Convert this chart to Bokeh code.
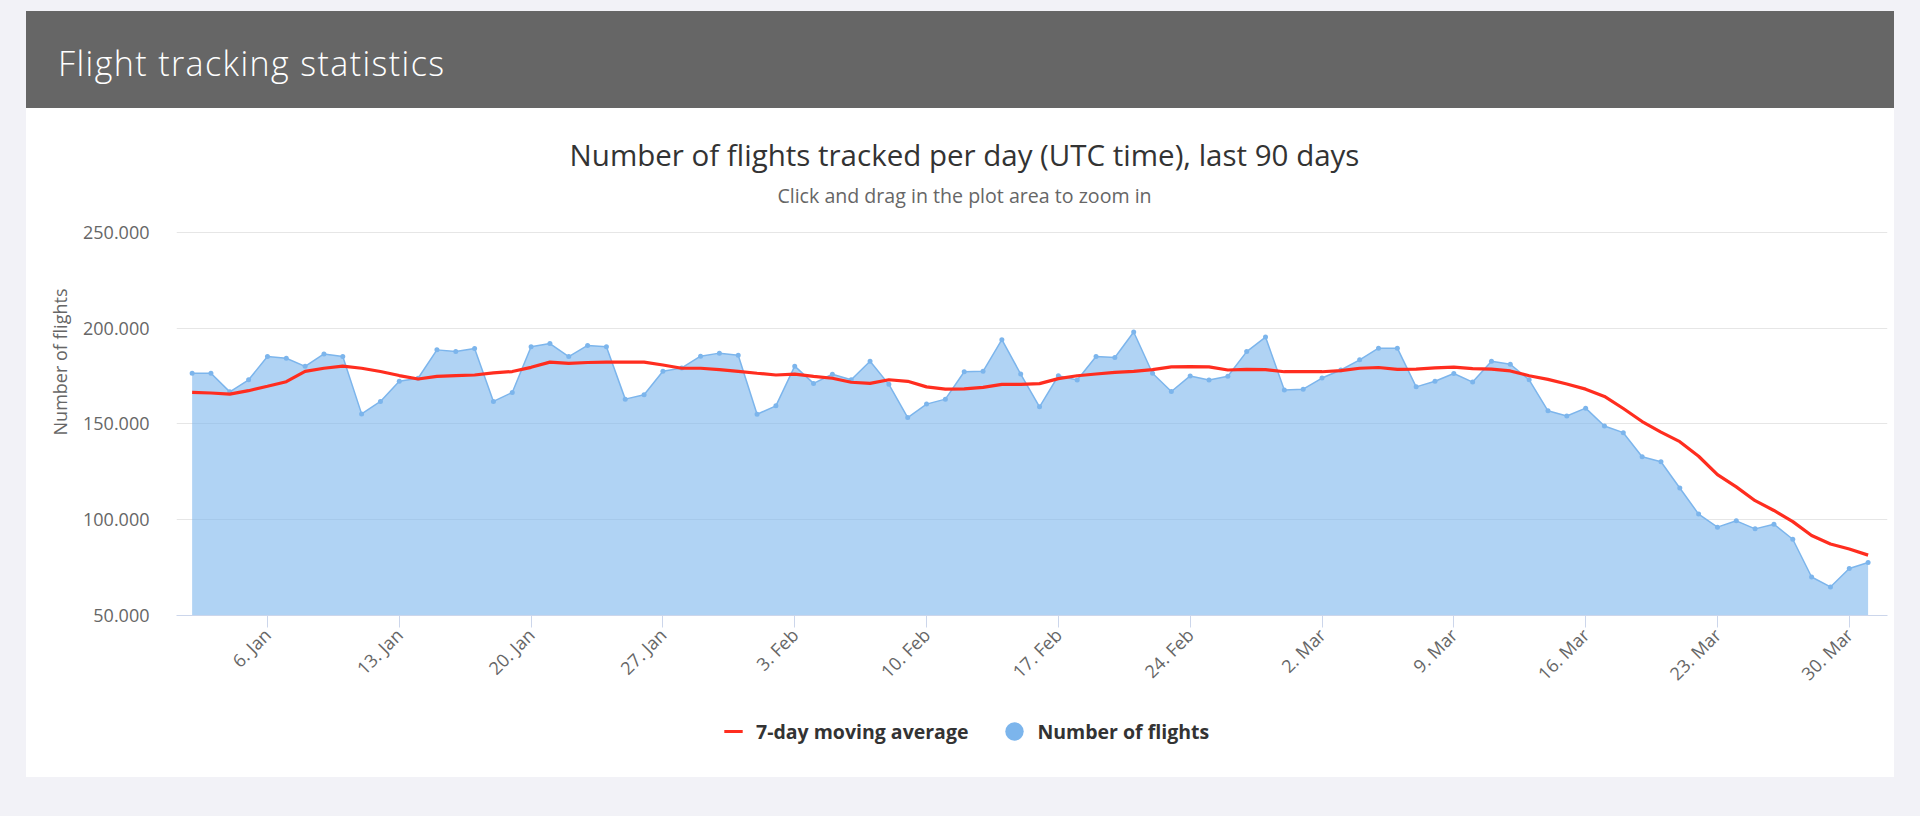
import math
from datetime import date

from bokeh.plotting import figure
from bokeh.models import Range1d, FixedTicker, Legend, LegendItem, Label, Div, Spacer
from bokeh.layouts import column, row
from bokeh.embed import file_html
from bokeh.resources import INLINE

# ---------------- data ----------------
START_DATE = "2020-01-02"

FLIGHTS = [
    176400, 176400, 166700, 173000, 185100, 184200, 180000, 186500, 185100, 155200,
    161700, 172200, 173800, 188600, 187700, 189300, 161700, 166400, 190200, 191900,
    185100, 190900, 190200, 162900, 165200, 177400, 179200, 185300, 186900, 185800,
    155000, 159400, 180100, 171100, 175900, 173000, 182700, 170600, 153300, 160300,
    162900, 177200, 177400, 193900, 176000, 158900, 175100, 172900, 185100, 184600,
    197900, 176400, 166900, 175000, 172900, 174800, 187700, 195300, 167600, 168100,
    173900, 178100, 183400, 189500, 189500, 169300, 172200, 176300, 171800, 182700,
    181100, 173000, 156800, 154100, 158200, 148900, 145400, 132800, 130200, 116500,
    102900, 96100, 99400, 95200, 97600, 89800, 70100, 64900, 74500, 77700,
]

MOVING_AVG = [
    166400, 166100, 165500, 167300, 169600, 172000, 177400, 179000, 180100, 179000,
    177300, 175200, 173400, 174800, 175200, 175500, 176600, 177300, 179500, 182200,
    181600, 182000, 182200, 182200, 182200, 180700, 179000, 179000, 178300, 177400,
    176400, 175500, 175900, 174800, 173800, 171700, 171100, 173000, 172200, 169300,
    168100, 168300, 169000, 170600, 170600, 171000, 173600, 175100, 176000, 176900,
    177400, 178300, 179700, 179900, 179700, 178100, 178400, 178300, 177200, 177200,
    177200, 177800, 179000, 179400, 178400, 178600, 179200, 179600, 178800, 178600,
    177600, 175100, 173200, 170800, 168100, 164300, 158000, 151200, 145700, 140700,
    133100, 123500, 117100, 109900, 104800, 99000, 91700, 87300, 84700, 81500,
]

X_TICK_DATES = [
    "2020-01-06", "2020-01-13", "2020-01-20", "2020-01-27", "2020-02-03",
    "2020-02-10", "2020-02-17", "2020-02-24", "2020-03-02", "2020-03-09",
    "2020-03-16", "2020-03-23", "2020-03-30",
]
X_TICK_LABELS = [
    "6. Jan", "13. Jan", "20. Jan", "27. Jan", "3. Feb", "10. Feb", "17. Feb",
    "24. Feb", "2. Mar", "9. Mar", "16. Mar", "23. Mar", "30. Mar",
]
Y_TICKS = [50000, 100000, 150000, 200000, 250000]
Y_TICK_LABELS = ["50.000", "100.000", "150.000", "200.000", "250.000"]

HEADER_TEXT = "Flight tracking statistics"
TITLE_TEXT = "Number of flights tracked per day (UTC time), last 90 days"
SUBTITLE_TEXT = "Click and drag in the plot area to zoom in"
SERIES_MA = "7-day moving average"
SERIES_FL = "Number of flights"

# ---------------- derived positions (days since start) ----------------
start = date.fromisoformat(START_DATE)
days = list(range(len(FLIGHTS)))
tick_pos = [(date.fromisoformat(d) - start).days for d in X_TICK_DATES]

FONT = "Open Sans"
BLUE = "#7cb5ec"
RED = "#ff2d1f"
BG = "#f2f2f7"
BG_STYLE = {"background-color": BG}

# ---------------- header ----------------
header = Div(
    text=('<div style="padding:29px 0 0 32px; margin:0; font-family:\'Open Sans\'; '
          'font-weight:300; font-size:34px; letter-spacing:1.4px; line-height:normal; '
          'color:#ffffff; white-space:nowrap;">' + HEADER_TEXT + '</div>'),
    width=1868, height=97, margin=0,
    styles={"background-color": "#666666", "overflow": "hidden"},
)

# ---------------- main chart ----------------
# frame spans from the top of the white panel down to the x axis; the data
# range 50.000-250.000 occupies its lower part, the titles sit above it.
Y_TOP = 314546
p = figure(width=1868, height=592, output_backend="svg", toolbar_location=None,
           title_location=None,
           x_range=Range1d(-0.83, 90.03), y_range=Range1d(50000, Y_TOP),
           min_border_left=150, min_border_right=7, min_border_top=0, min_border_bottom=85,
           background_fill_color="white", border_fill_color="white", outline_line_color=None)

p.varea(x=days, y1=0, y2=FLIGHTS, fill_color=BLUE, fill_alpha=0.6)
p.line(x=days, y=FLIGHTS, line_color=BLUE, line_width=1.5)
p.scatter(x=days, y=FLIGHTS, marker="circle", size=5, fill_color=BLUE, line_color=None)
p.line(x=days, y=MOVING_AVG, line_color=RED, line_width=3.2)

xa = p.xaxis[0]
xa.ticker = FixedTicker(ticks=tick_pos)
xa.major_label_overrides = dict(zip(tick_pos, X_TICK_LABELS))
xa.major_label_orientation = math.pi / 4
xa.axis_line_color = "#ccd6eb"
xa.major_tick_line_color = "#ccd6eb"
xa.major_tick_out = 12
xa.major_tick_in = 0
xa.minor_tick_line_color = None
xa.major_label_standoff = 4
xa.major_label_text_font = FONT
xa.major_label_text_font_size = "18px"
xa.major_label_text_color = "#666666"

ya = p.yaxis[0]
ya.ticker = FixedTicker(ticks=Y_TICKS)
ya.major_label_overrides = dict(zip(Y_TICKS, Y_TICK_LABELS))
ya.axis_line_color = None
ya.major_tick_line_color = None
ya.minor_tick_line_color = None
ya.major_tick_out = 0
ya.major_label_standoff = 27
ya.major_label_text_font = FONT
ya.major_label_text_font_size = "18px"
ya.major_label_text_color = "#666666"
ya.axis_label = SERIES_FL
ya.axis_label_text_font = FONT
ya.axis_label_text_font_size = "18px"
ya.axis_label_text_font_style = "normal"
ya.axis_label_text_color = "#666666"
ya.axis_label_standoff = 8

p.xgrid.grid_line_color = None
p.ygrid.grid_line_color = "#e6e6e6"

p.add_layout(Label(x=788, y=461, x_units="screen", y_units="screen", text=TITLE_TEXT,
                   text_font=FONT, text_font_size="29.5px", text_color="#333333",
                   text_align="center", text_baseline="alphabetic"))
p.add_layout(Label(x=788, y=420, x_units="screen", y_units="screen", text=SUBTITLE_TEXT,
                   text_font=FONT, text_font_size="19.6px", text_color="#666666",
                   text_align="center", text_baseline="alphabetic"))

# ---------------- legend strip ----------------
lf = figure(width=1868, height=77, output_backend="svg", toolbar_location=None,
            title_location=None, x_axis_type=None, y_axis_type=None,
            x_range=Range1d(0, 1), y_range=Range1d(0, 1),
            min_border_left=150, min_border_right=7, min_border_top=0, min_border_bottom=0,
            background_fill_color="white", border_fill_color="white", outline_line_color=None)
lf.grid.visible = False
# legend swatches: same series, lying outside this strip's ranges so only the swatch shows
leg_ma = lf.scatter(x=days, y=MOVING_AVG, marker="dash", line_color=RED, line_width=3, size=18)
leg_fl = lf.scatter(x=days, y=FLIGHTS, marker="circle", fill_color=BLUE, line_color=None, size=18)
legend = Legend(items=[LegendItem(label=SERIES_MA, renderers=[leg_ma]),
                       LegendItem(label=SERIES_FL, renderers=[leg_fl])],
                location=(534, 23), orientation="horizontal",
                glyph_width=46, glyph_height=46, label_standoff=0, spacing=23,
                padding=0, margin=0, border_line_color=None, background_fill_alpha=0,
                label_text_font=FONT, label_text_font_size="19.5px",
                label_text_font_style="bold", label_text_color="#333333")
lf.add_layout(legend, "center")


def side(h):
    return Spacer(width=26, height=h, margin=0, styles=BG_STYLE)


# white behind the panels (so no seam shows between them); lavender spacers around
layout = column(
    Spacer(width=1920, height=11, margin=0, styles=BG_STYLE),
    row(side(97), header, side(97), spacing=0, margin=0),
    row(side(592), p, side(592), spacing=0, margin=0),
    row(side(77), lf, side(77), spacing=0, margin=0),
    Spacer(width=1920, height=39, margin=0, styles=BG_STYLE),
    spacing=0, margin=0,
    styles={"background-color": "white"},
)

open("out.html", "w").write(file_html(layout, INLINE))
